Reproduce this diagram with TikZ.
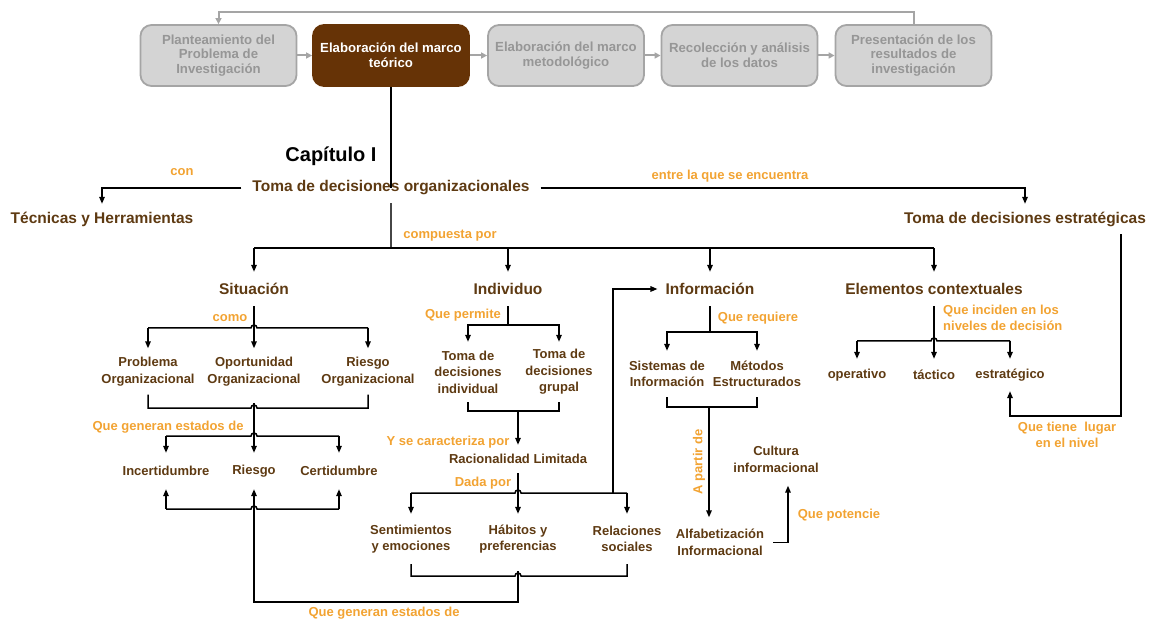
\documentclass[tikz,border=0pt]{standalone}
\usepackage{fontspec}
\setmainfont{Liberation Sans}
\usetikzlibrary{arrows.meta}
\definecolor{brn}{RGB}{94,58,18}
\definecolor{orng}{RGB}{242,163,50}
\definecolor{boxfill}{RGB}{212,212,212}
\definecolor{boxline}{RGB}{165,165,165}
\definecolor{boxtext}{RGB}{150,150,150}
\definecolor{active}{RGB}{102,51,6}
\definecolor{dgray}{RGB}{70,70,70}
\begin{document}
\begin{tikzpicture}[x=1pt,y=-1pt,
  topbox/.style={draw=boxline,line width=1.8pt,fill=boxfill,rounded corners=11pt,text=boxtext,font=\fontsize{13.2}{14.6}\selectfont\bfseries,align=center,minimum width=156pt,minimum height=61pt,inner sep=0pt},
  main/.style={text=brn,font=\fontsize{15.5}{18}\selectfont\bfseries,inner sep=0pt,minimum height=34pt},
  sub/.style={text=brn,font=\fontsize{13}{16.5}\selectfont\bfseries,align=center,inner sep=0pt},
  olab/.style={text=orng,font=\fontsize{13}{16}\selectfont\bfseries,inner sep=0pt,align=center},
  con/.style={line width=1.5pt,draw=black},
  arr/.style={con,-{Triangle[length=7pt,width=5.5pt]}},
  garr/.style={line width=2pt,draw=boxline,-{Triangle[length=6pt,width=6pt]}}]
\useasboundingbox (0,0) rectangle (1154,620);
% top process row
\node[topbox] (b1) at (218.5,55.5) {Planteamiento del\\Problema de\\Investigación};
\node[topbox,fill=active,draw=active,text=white] (b2) at (391,55.5) {Elaboración del marco\\teórico};
\node[topbox] (b3) at (566,55.5) {Elaboración del marco\\metodológico};
\node[topbox] (b4) at (739.5,55.5) {Recolección y análisis\\de los datos};
\node[topbox] (b5) at (913.5,55.5) {Presentación de los\\resultados de\\investigación};
\foreach \a/\b in {b1/b2,b2/b3,b3/b4,b4/b5} \draw[garr] (\a) -- (\b);
\draw[garr] (b5.north) -- ++(0,-12) -| (b1.north);
% chapter
\node[font=\fontsize{20}{24}\selectfont\bfseries,inner sep=0pt] (cap) at (331,156) {Capítulo I};
\node[main,inner xsep=11pt,minimum height=30pt] (torg) at (391,188) {Toma de decisiones organizacionales};
\node[main,minimum height=30pt] (tec) at (102,219) {Técnicas y Herramientas};
\node[main,minimum height=30pt] (tde) at (1025,219) {Toma de decisiones estratégicas};
\draw[line width=2.5pt] (b2.south) -- (torg.center);
\draw[arr] (torg.west) -| (tec.north);
\draw[arr] (torg.east) -| (tde.north);
\node[olab] (lcon) at (182,172) {con};
\node[olab] (lentre) at (730,176) {entre la que se encuentra};
\node[olab] (lcomp) at (450,236) {compuesta por};
% second level
\node[main] (sit) at (254,289) {Situación};
\node[main] (ind) at (508,289) {Individuo};
\node[main,inner xsep=8pt] (inf) at (710,289) {Información};
\node[main] (ele) at (934,289) {Elementos contextuales};
\coordinate (hc) at (391,248);
\draw[con,draw=dgray] (torg.south) -- (hc);
\draw[con] (hc -| sit) -- (hc -| ele);
\foreach \n in {sit,ind,inf,ele} \draw[arr] (hc -| \n) -- (\n.north);
% Situacion branch
\node[sub,minimum height=46pt] (prob) at (148,371.5) {Problema\\Organizacional};
\node[sub,minimum height=46pt] (opo) at (254,371.5) {Oportunidad\\Organizacional};
\node[sub,minimum height=46pt] (rieO) at (368,371.5) {Riesgo\\Organizacional};
\node[olab] (lcomo) at (230,318) {como};
\coordinate (s1) at (254,328);
\draw[arr] (sit.south) -- (opo.north);
\draw[con] (s1 -| prob) -- ([xshift=-3pt]s1) arc[start angle=180,end angle=0,radius=3pt] -- (s1 -| rieO);
\draw[arr] (s1 -| prob) -- (prob.north);
\draw[arr] (s1 -| rieO) -- (rieO.north);
\coordinate (s2) at (254,408);
\draw[con] (prob.south) |- ([xshift=-3pt]s2) arc[start angle=180,end angle=0,radius=3pt] -| (rieO.south);
\node[sub,minimum height=36pt] (inc) at (166,471) {Incertidumbre};
\node[sub,minimum height=36pt] (rsg) at (254,471) {Riesgo};
\node[sub,minimum height=36pt] (cer) at (339,471) {Certidumbre};
\node[olab] (lgen1) at (168,427) {Que generan estados de};
\draw[arr] ([yshift=5pt]s2) -- (rsg.north);
\coordinate (s3) at (254,436);
\draw[con] (s3 -| inc) -- ([xshift=-3pt]s3) arc[start angle=180,end angle=0,radius=3pt] -- (s3 -| cer);
\draw[arr] (s3 -| inc) -- (inc.north);
\draw[arr] (s3 -| cer) -- (cer.north);
\coordinate (s4) at (254,509);
\draw[con] (s4 -| inc) -- ([xshift=-3pt]s4) arc[start angle=180,end angle=0,radius=3pt] -- (s4 -| cer);
\draw[arr] (s4 -| inc) -- (inc.south);
\draw[arr] (s4 -| cer) -- (cer.south);
% Individuo branch
\node[olab] (lperm) at (463,315) {Que permite};
\node[sub,minimum height=60pt] (tdi) at (468,372) {Toma de\\decisiones\\individual};
\node[sub,minimum height=60pt] (tdg) at (559,372) {Toma de\\decisiones\\grupal};
\coordinate (i1) at (508,325);
\draw[con] (ind.south) -- (i1);
\draw[arr] (i1) -| (tdi.north);
\draw[arr] (i1) -| (tdg.north);
\coordinate (i2) at (518,411);
\draw[con] (tdi.south) |- (i2) -| (tdg.south);
\node[sub,minimum height=28pt] (rac) at (518,459) {Racionalidad Limitada};
\node[olab] (lcar) at (448,442) {Y se caracteriza por};
\draw[arr] (i2) -- (rac.north);
\node[olab] (ldada) at (483,483) {Dada por};
\node[sub,minimum height=50pt] (sen) at (411,539) {Sentimientos\\y emociones};
\node[sub,minimum height=50pt] (hab) at (518,539) {Hábitos y\\preferencias};
\node[sub,minimum height=50pt] (rel) at (627,539) {Relaciones\\sociales};
\coordinate (i3) at (518,493);
\draw[arr] (rac.south) -- (hab.north);
\draw[con] (i3 -| sen) -- ([xshift=-3pt]i3) arc[start angle=180,end angle=0,radius=3pt] -- (i3 -| rel);
\draw[arr] (i3 -| sen) -- (sen.north);
\draw[arr] (i3 -| rel) -- (rel.north);
\coordinate (i4) at (613,493);
\draw[arr] (i4) |- (inf.west);
\coordinate (h4) at (518,576);
\draw[con] (sen.south) |- ([xshift=-3pt]h4) arc[start angle=180,end angle=0,radius=3pt] -| (rel.south);
\coordinate (s5) at (254,602);
\draw[arr] ([yshift=5pt]h4) |- (s5) -- (rsg.south);
\node[olab] (lgen2) at (384,613) {Que generan estados de};
% Informacion branch
\node[olab] (lreq) at (758,318) {Que requiere};
\node[sub,minimum height=46pt] (sis) at (667,374) {Sistemas de\\Información};
\node[sub,minimum height=46pt] (met) at (757,374) {Métodos\\Estructurados};
\coordinate (f1) at (710,332);
\draw[con] (inf.south) -- (f1);
\draw[arr] (f1) -| (sis.north);
\draw[arr] (f1) -| (met.north);
\coordinate (f2) at (709,407);
\node[sub,minimum height=50pt,inner xsep=9pt] (alf) at (720,542.5) {Alfabetización\\Informacional};
\node[sub,minimum height=52pt] (cul) at (776,459.5) {Cultura\\informacional};
\draw[con] (sis.south) |- (f2) -| (met.south);
\draw[arr] (f2) -- (f2 |- alf.north);
\node[olab,rotate=90] (lpart) at (699,462) {A partir de};
\draw[arr] (alf.east) -| ([xshift=12pt]cul.south);
\node[olab] (lpot) at (839,515) {Que potencie};
% Elementos branch
\node[olab,align=left,anchor=west] (linc) at (943,318) {Que inciden en los\\niveles de decisión};
\node[sub,minimum height=32pt] (ope) at (857,375) {operativo};
\node[sub,minimum height=32pt] (tac) at (934,375) {táctico};
\node[sub,minimum height=32pt] (est) at (1010,375) {estratégico};
\coordinate (e1) at (934,341);
\draw[arr] (ele.south) -- (tac.north);
\draw[con] (e1 -| ope) -- ([xshift=-3pt]e1) arc[start angle=180,end angle=0,radius=3pt] -- (e1 -| est);
\draw[arr] (e1 -| ope) -- (ope.north);
\draw[arr] (e1 -| est) -- (est.north);
\coordinate (lp) at (1121,416);
\draw[arr] (tde.south -| lp) -- (lp) -| (est.south);
\node[olab] (lnivel) at (1067,435) {Que tiene\ \ lugar\\en el nivel};
\end{tikzpicture}
\end{document}
